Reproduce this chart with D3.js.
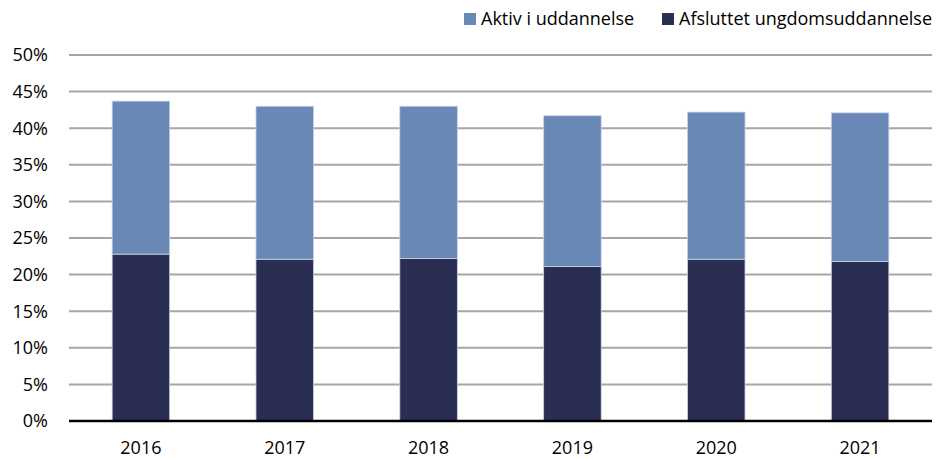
<!DOCTYPE html>
<html>
<head>
<meta charset="utf-8">
<script src="https://cdn.jsdelivr.net/npm/d3@7"></script>
<style>
  body { margin: 0; background: #fff; }
  text { font-family: "Open Sans", "Liberation Sans", Arial, sans-serif; fill: #000; }
</style>
</head>
<body>
<div id="chart"></div>
<script>
// data (percent)
const years = ["2016", "2017", "2018", "2019", "2020", "2021"];
const afsluttet = [22.8, 22.1, 22.2, 21.1, 22.1, 21.8];
const aktiv = [20.9, 20.9, 20.8, 20.6, 20.1, 20.3];
const seriesNames = ["Afsluttet ungdomsuddannelse", "Aktiv i uddannelse"];
const yTicks = [0, 5, 10, 15, 20, 25, 30, 35, 40, 45, 50];

const width = 952;
const height = 459;
const margin = {top: 55, right: 20, bottom: 38, left: 69};
const fontSize = 18;

const colors = {
    "Afsluttet ungdomsuddannelse": "#292e52",
    "Aktiv i uddannelse": "#6a88b6"
};

const rows = years.map((y, i) => ({
    year: y,
    "Afsluttet ungdomsuddannelse": afsluttet[i],
    "Aktiv i uddannelse": aktiv[i]
}));

const stack = d3.stack().keys(seriesNames);
const layers = stack(rows);

const x = d3.scaleBand(years, [margin.left, 932]).paddingInner(0.6).paddingOuter(0.3);
const y = d3.scaleLinear([0, 50], [height - margin.bottom, margin.top]);

const svg = d3.select("#chart").append("svg")
    .attr("width", width)
    .attr("height", height)
    .attr("viewBox", [0, 0, width, height]);

// gridlines
svg.append("g")
    .selectAll("line")
    .data(yTicks.slice(1))
    .join("line")
    .attr("x1", margin.left)
    .attr("x2", 932)
    .attr("y1", d => y(d))
    .attr("y2", d => y(d))
    .attr("stroke", "#a6a6a6")
    .attr("stroke-width", 2);

// y labels
svg.append("g")
    .selectAll("text")
    .data(yTicks)
    .join("text")
    .attr("x", 48)
    .attr("y", d => y(d))
    .attr("dy", "0.35em")
    .attr("text-anchor", "end")
    .attr("font-size", fontSize)
    .text(d => d + "%");

// bars
svg.append("g")
    .selectAll("g")
    .data(layers)
    .join("g")
    .attr("fill", d => colors[d.key])
    .selectAll("rect")
    .data(d => d)
    .join("rect")
    .attr("x", d => x(d.data.year))
    .attr("width", x.bandwidth())
    .attr("y", d => y(d[1]))
    .attr("height", d => y(d[0]) - y(d[1]))
    .attr("stroke", "#c9d3e6")
    .attr("stroke-width", 0.8);

// zero axis
svg.append("line")
    .attr("x1", margin.left)
    .attr("x2", 932)
    .attr("y1", y(0))
    .attr("y2", y(0))
    .attr("stroke", "#000")
    .attr("stroke-width", 2.5);

// x labels
svg.append("g")
    .selectAll("text")
    .data(years)
    .join("text")
    .attr("x", d => x(d) + x.bandwidth() / 2)
    .attr("y", 448)
    .attr("dy", "0.35em")
    .attr("text-anchor", "middle")
    .attr("font-size", fontSize)
    .text(d => d);

// legend
const legendItems = [
    {name: "Aktiv i uddannelse", x: 464},
    {name: "Afsluttet ungdomsuddannelse", x: 662}
];
const legend = svg.append("g")
    .selectAll("g")
    .data(legendItems)
    .join("g")
    .attr("transform", d => `translate(${d.x},19)`);
legend.append("rect")
    .attr("x", 0)
    .attr("y", -6)
    .attr("width", 12)
    .attr("height", 12)
    .attr("fill", d => colors[d.name]);
legend.append("text")
    .attr("x", 17)
    .attr("dy", "0.35em")
    .attr("font-size", fontSize)
    .text(d => d.name);
</script>
</body>
</html>
